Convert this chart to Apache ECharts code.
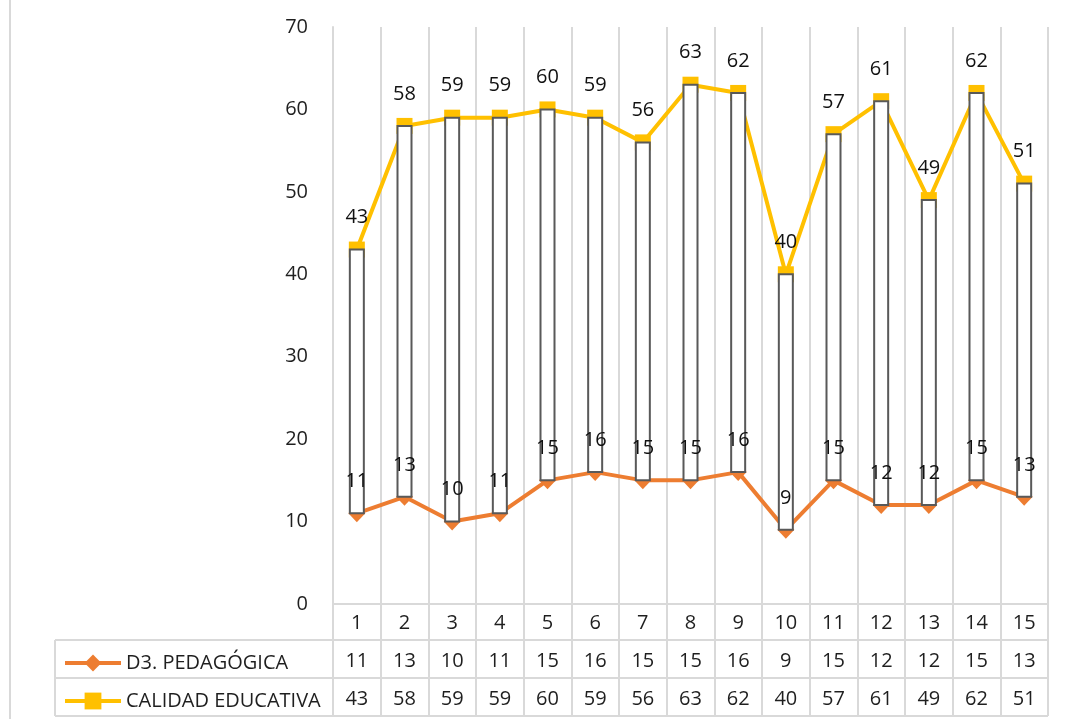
<!DOCTYPE html>
<html>
<head>
<meta charset="utf-8">
<script src="https://cdn.jsdelivr.net/npm/echarts@6/dist/echarts.min.js"></script>
<style>
html,body{margin:0;padding:0;background:#fff;}
#chart{width:1068px;height:719px;}
</style>
</head>
<body>
<div id="chart"></div>
<script>
const categories = ['1','2','3','4','5','6','7','8','9','10','11','12','13','14','15'];
const pedagogica = [11,13,10,11,15,16,15,15,16,9,15,12,12,15,13];
const calidad = [43,58,59,59,60,59,56,63,62,40,57,61,49,62,51];
const yTicks = {min:0, max:70, interval:10};
const seriesNames = ['D3. PEDAGÓGICA','CALIDAD EDUCATIVA'];

const FONT = '"Open Sans", "Liberation Sans", sans-serif';
const FS = 20;
const TXT = '#1f1f1f';
const GRID = '#d9d9d9';

const chart = echarts.init(document.getElementById('chart'));
const barData = categories.map((c,i)=>[i, pedagogica[i], calidad[i]]);

const tableAxis = (offset, values) => ({
  type:'category', data:categories, position:'bottom', gridIndex:0, offset:offset,
  axisLine:{show:false}, axisTick:{show:false}, splitLine:{show:false},
  axisLabel:{interval:0, margin:9, fontFamily:FONT, fontSize:FS, color:TXT,
    formatter:(v,i)=>String(values[i])}
});

const legendFor = (name, top) => ({
  orient:'horizontal', left:58, top:top, itemWidth:56, itemHeight:21,
  data:[name], selectedMode:false,
  lineStyle:{width:4},
  textStyle:{fontFamily:FONT, fontSize:FS, color:TXT}
});

chart.setOption({
  backgroundColor:'#fff',
  animation:false,
  grid:{left:333, right:20, top:27, bottom:115, containLabel:false},
  legend:[legendFor(seriesNames[0], 648), legendFor(seriesNames[1], 686)],
  xAxis:[
    {type:'category', data:categories, position:'bottom',
     axisLine:{show:true, lineStyle:{color:GRID, width:2}},
     axisTick:{show:true, interval:0, length:112, lineStyle:{color:GRID, width:2}},
     splitLine:{show:true, interval:0, lineStyle:{color:GRID, width:2}},
     axisLabel:{interval:0, margin:9, fontFamily:FONT, fontSize:FS, color:TXT}},
    tableAxis(38, pedagogica),
    tableAxis(76, calidad)
  ],
  yAxis:{type:'value', min:yTicks.min, max:yTicks.max, interval:yTicks.interval,
    axisLine:{show:true, lineStyle:{color:GRID, width:2}},
    axisTick:{show:false}, splitLine:{show:false},
    axisLabel:{margin:25, fontFamily:FONT, fontSize:FS, color:TXT}},
  graphic:[
    {type:'line', shape:{x1:10, y1:0, x2:10, y2:719}, style:{stroke:GRID, lineWidth:2}},
    {type:'line', shape:{x1:55, y1:640, x2:1048, y2:640}, style:{stroke:GRID, lineWidth:2}},
    {type:'line', shape:{x1:55, y1:678, x2:1048, y2:678}, style:{stroke:GRID, lineWidth:2}},
    {type:'line', shape:{x1:55, y1:716, x2:1048, y2:716}, style:{stroke:GRID, lineWidth:2}},
    {type:'line', shape:{x1:55, y1:640, x2:55, y2:716}, style:{stroke:GRID, lineWidth:2}}
  ],
  series:[
    {name:seriesNames[0], type:'line', data:pedagogica, z:2,
     symbol:'diamond', symbolSize:[17,18],
     itemStyle:{color:'#ED7D31'}, lineStyle:{color:'#ED7D31', width:4}},
    {name:seriesNames[1], type:'line', data:calidad, z:2,
     symbol:'rect', symbolSize:16,
     itemStyle:{color:'#FFC000'}, lineStyle:{color:'#FFC000', width:4}},
    {name:'updown', type:'custom', data:barData, z:3,
     encode:{x:0, y:[1,2]},
     renderItem:(params, api)=>{
       const idx = api.value(0), lo = api.value(1), hi = api.value(2);
       const pLo = api.coord([idx, lo]);
       const pHi = api.coord([idx, hi]);
       const w = 14;
       const ts = {fontFamily:FONT, fontSize:FS, fill:'#111', align:'center', verticalAlign:'middle'};
       return {type:'group', children:[
         {type:'rect', shape:{x:pLo[0]-w/2, y:pHi[1], width:w, height:pLo[1]-pHi[1]},
          style:{fill:'#fff', stroke:'#595959', lineWidth:2}},
         {type:'text', x:pHi[0], y:pHi[1]-32, style:Object.assign({text:String(hi)}, ts)},
         {type:'text', x:pLo[0], y:pLo[1]-32, style:Object.assign({text:String(lo)}, ts)}
       ]};
     }}
  ]
});
</script>
</body>
</html>
